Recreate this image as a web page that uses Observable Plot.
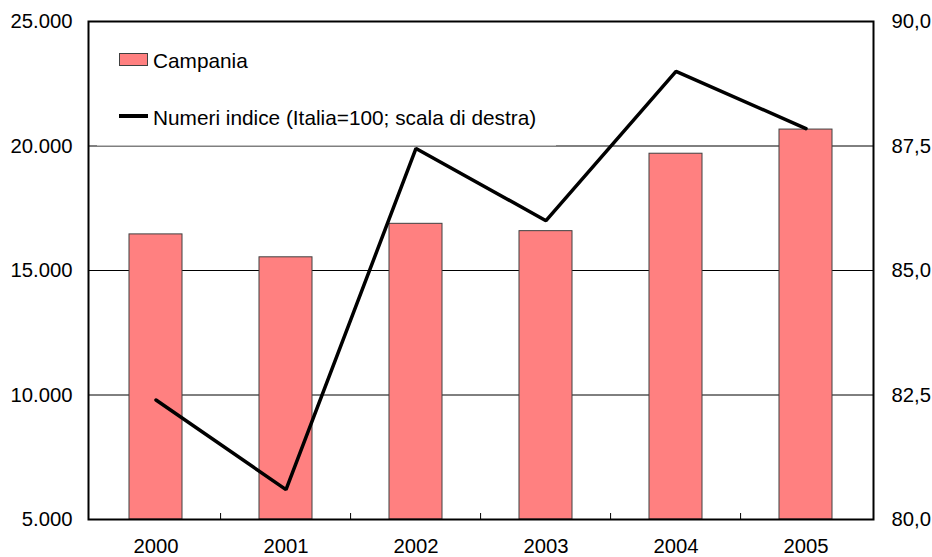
<!DOCTYPE html>
<html><head><meta charset="utf-8">
<script src="https://cdn.jsdelivr.net/npm/d3@7"></script>
<script src="https://cdn.jsdelivr.net/npm/@observablehq/plot@0.6"></script>
<style>
body{margin:0;background:#fff;font-family:"Liberation Sans",Arial,sans-serif;}
#wrap{position:relative;width:932px;height:557px;overflow:hidden;}
#legend{position:absolute;left:97px;top:23px;width:459px;height:122px;background:#fff;border-bottom:1px solid #c0c0c0;font-size:20.8px;color:#000;}
#legend .sw{position:absolute;left:22px;top:30px;width:27px;height:11px;background:#FF8080;border:1px solid #404040;}
#legend .ln{position:absolute;left:22px;top:91px;width:29px;height:3.5px;background:#000;}
#legend .t{position:absolute;left:56px;line-height:20px;white-space:nowrap;}
</style>
</head><body>
<div id="wrap"></div>
<script>
const years = ["2000","2001","2002","2003","2004","2005"];
const campania = [16450, 15530, 16875, 16580, 19690, 20660];
const indice = [82.4, 80.6, 87.45, 86.0, 89.0, 87.85];
const leftTicks = [5000, 10000, 15000, 20000, 25000];
const leftLabels = ["5.000", "10.000", "15.000", "20.000", "25.000"];
const rightTicks = [80, 82.5, 85, 87.5, 90];
const rightLabels = ["80,0", "82,5", "85,0", "87,5", "90,0"];
const gridValues = [10000, 15000, 20000];
const seriesNames = ["Campania", "Numeri indice (Italia=100; scala di destra)"];

// right scale (80-90) mapped onto left scale (5000-25000)
const toLeft = v => 5000 + (v - 80) * 2000;

const bars = years.map((y, i) => ({year: y, value: campania[i]}));
const line = years.map((y, i) => ({year: y, value: indice[i]}));

const W = 932, H = 557;
const mL = 88, mR = 59, mT = 21, mB = 38;
const step = (W - mL - mR) / years.length;

const chart = Plot.plot({
  width: W, height: H,
  marginLeft: mL, marginRight: mR, marginTop: mT, marginBottom: mB,
  style: {fontSize: "20.3px", fontFamily: "'Liberation Sans', Arial, sans-serif", color: "#000", background: "#fff"},
  x: {domain: years, paddingInner: 0.595, paddingOuter: 0.2975},
  y: {domain: [5000, 25000]},
  marks: [
    Plot.ruleY(gridValues, {stroke: "#000", strokeWidth: 1}),
    Plot.barY(bars, {x: "year", y: "value", y1: 5000, fill: "#FF8080", stroke: "#404040", strokeWidth: 1}),
    Plot.line(line, {x: "year", y: d => toLeft(d.value), stroke: "#000", strokeWidth: 3.5, strokeLinejoin: "miter"}),
    Plot.ruleX(years.slice(1), {dx: -step / 2, insetTop: H - mT - mB - 6, stroke: "#000", strokeWidth: 1}),
    Plot.frame({stroke: "#000", strokeWidth: 2}),
    Plot.axisY(leftTicks, {anchor: "left", tickSize: 0, tickPadding: 16, tickFormat: d => leftLabels[leftTicks.indexOf(d)], label: null}),
    Plot.axisY(rightTicks.map(toLeft), {anchor: "right", tickSize: 0, tickPadding: 18, tickFormat: d => rightLabels[rightTicks.map(toLeft).indexOf(d)], label: null}),
    Plot.axisX({anchor: "bottom", tickSize: 0, tickPadding: 19, label: null})
  ]
});

const wrap = document.getElementById("wrap");
wrap.appendChild(chart);

const legend = document.createElement("div");
legend.id = "legend";
legend.innerHTML = `<div class="sw"></div><span class="t" style="top:27.5px">${seriesNames[0]}</span>
<div class="ln"></div><span class="t" style="top:85px">${seriesNames[1]}</span>`;
wrap.appendChild(legend);
</script>
</body></html>
